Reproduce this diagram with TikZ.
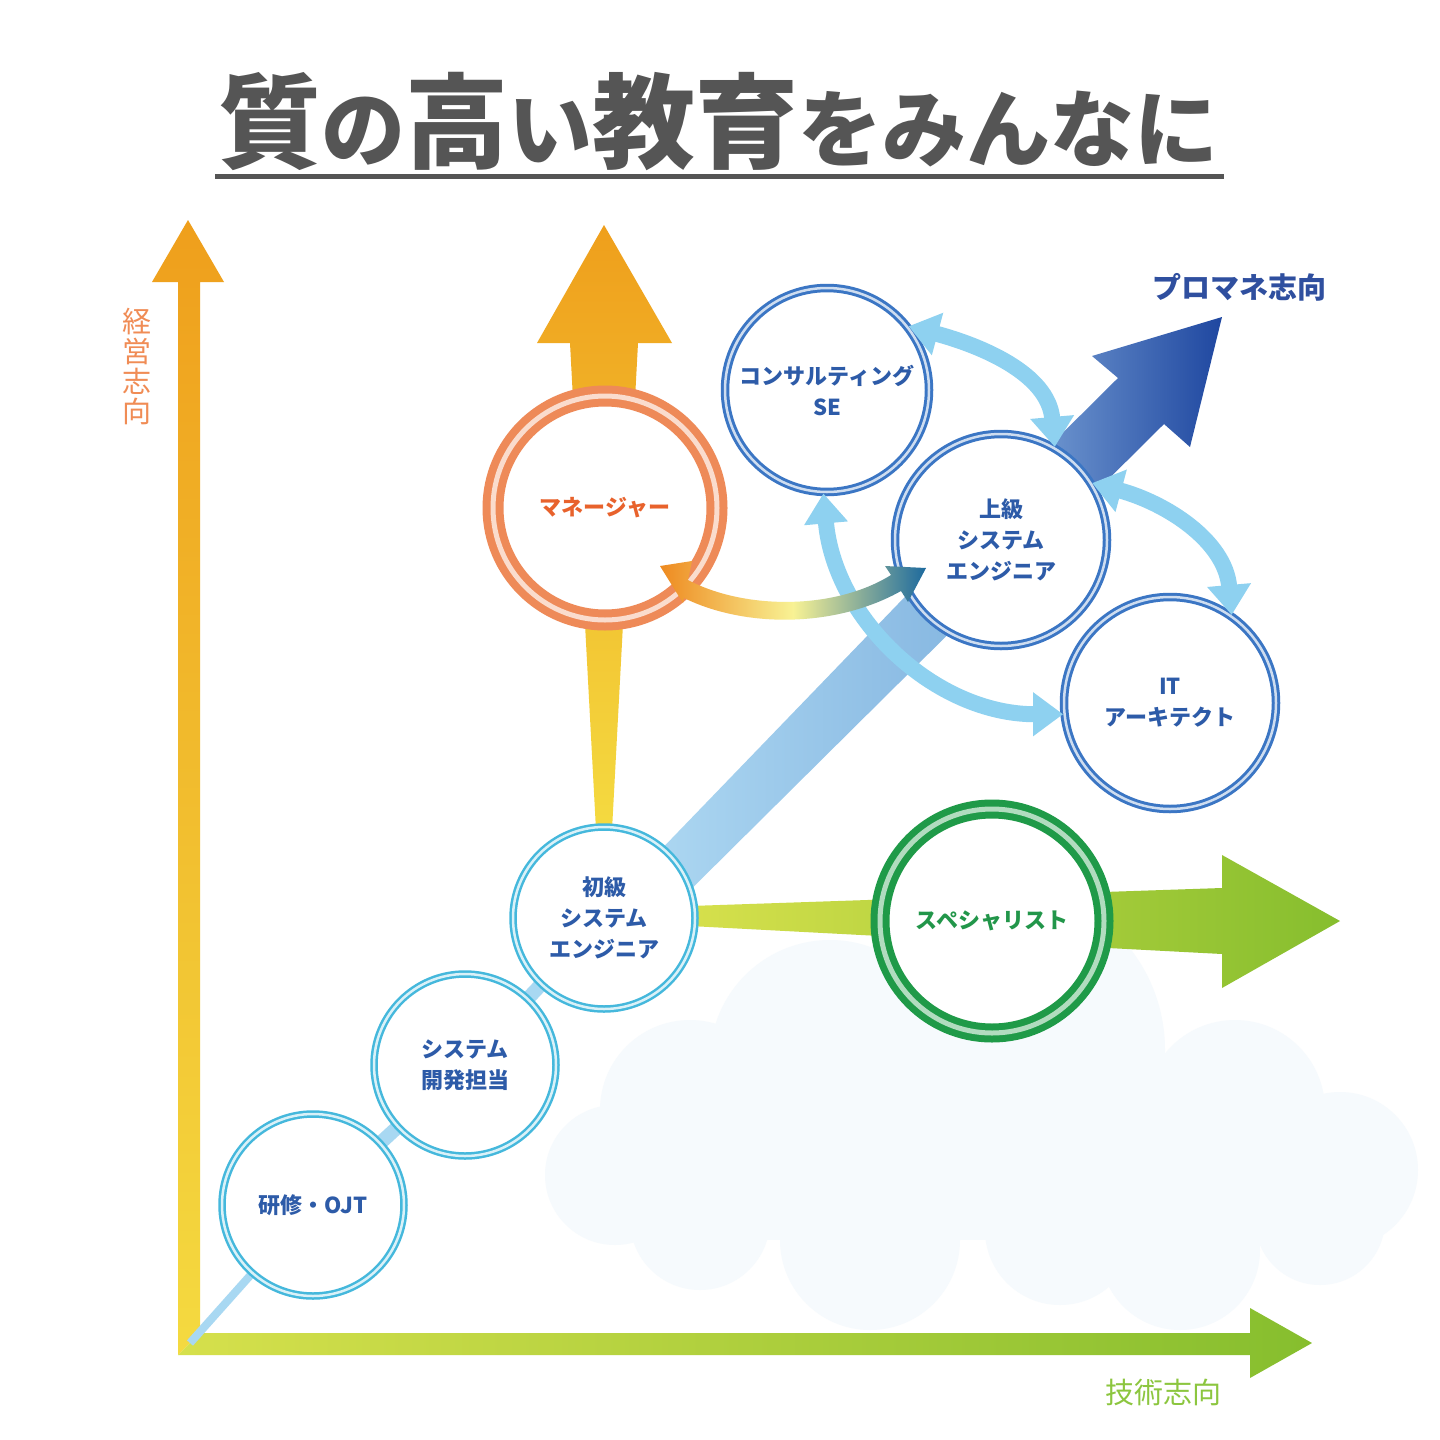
\documentclass[tikz,border=0pt]{standalone}
\usepackage{fontspec}
\newfontfamily\jp{Noto Sans CJK JP}
\usetikzlibrary{arrows.meta,backgrounds}

\definecolor{ttlgray}{HTML}{555555}
\definecolor{axorange}{HTML}{EF9F1C}
\definecolor{axyellow}{HTML}{F4DA40}
\definecolor{axlime}{HTML}{D6E04C}
\definecolor{axgreen}{HTML}{86BE2E}
\definecolor{lblorange}{HTML}{F08C55}
\definecolor{lblgreen}{HTML}{8CC63F}
\definecolor{ringcyan}{HTML}{45B8DC}
\definecolor{ringblue}{HTML}{3B76C4}
\definecolor{ringorange}{HTML}{EE8A58}
\definecolor{ringgreen}{HTML}{1F9A48}
\definecolor{txtblue}{HTML}{2D5BA8}
\definecolor{txtorange}{HTML}{E8622C}
\definecolor{txtgreen}{HTML}{22964A}
\definecolor{pmblue}{HTML}{2F4F9F}
\definecolor{skyblue}{HTML}{8ED1F0}
\definecolor{chainblue}{HTML}{A8D8F2}
\definecolor{bandlight}{HTML}{B0DAF3}
\definecolor{bandmid}{HTML}{7FB1DE}
\definecolor{pmlight}{HTML}{8AB2E0}
\definecolor{pmdark}{HTML}{1F47A0}
\definecolor{gradorange}{HTML}{EE8A20}
\definecolor{gradpale}{HTML}{F8F294}
\definecolor{gradteal}{HTML}{1D6A9E}
\definecolor{cloudbg}{HTML}{F6FAFD}

\newcommand\bigchar[1]{{\fontsize{103}{110}\selectfont#1}}
\newcommand\smallchar[1]{{\fontsize{84}{110}\selectfont#1}}

\tikzset{
  stagering/.style={circle, inner sep=0pt, minimum size=182pt, fill=white,
    draw=ringcyan, double=white!80!ringcyan, line width=2.5pt, double distance=2.5pt,
    text=txtblue, font=\jp\bfseries\fontsize{22}{31}\selectfont, align=center},
  seniorring/.style={stagering, minimum size=212pt, draw=ringblue,
    double=white!75!ringblue, line width=3pt},
  mgrring/.style={stagering, minimum size=224pt, draw=ringorange,
    double=white!70!ringorange, line width=8pt, double distance=5pt, text=txtorange},
  specring/.style={stagering, minimum size=224pt, draw=ringgreen,
    double=white!65!ringgreen, line width=7pt, double distance=5pt, text=txtgreen},
  twoway/.style={draw=skyblue, line width=16pt,
    {Triangle[width=42pt,length=30pt]}-{Triangle[width=42pt,length=30pt]}},
  axlabel/.style={font=\jp\fontsize{29}{30}\selectfont, align=center, inner sep=0pt}
}

\begin{document}
\begin{tikzpicture}[x=1pt,y=1pt]
\useasboundingbox (0,0) rectangle (1440,-1440);

% title
\node[anchor=base west, inner sep=0pt, text=ttlgray, font=\jp\bfseries] (title) at (218,-160)
  {\bigchar{質}\smallchar{の}\bigchar{高}\smallchar{い}\bigchar{教育}\smallchar{をみんなに}};
\draw[ttlgray, line width=5pt] (215,-176) -- (1224,-176);

% career circles
\node[stagering] (ojt) at (313,-1205) {研修・OJT};
\node[stagering] (kaihatsu) at (465,-1065) {システム\\開発担当};
\node[stagering] (shokyu) at (604,-918) {初級\\システム\\エンジニア};
\node[mgrring] (manager) at (605,-508) {マネージャー};
\node[seniorring, minimum size=204pt] (consul) at (827,-390) {コンサルティング\\SE};
\node[seniorring] (jokyu) at (1001,-540) {上級\\システム\\エンジニア};
\node[seniorring] (itarch) at (1170,-703) {IT\\アーキテクト};
\node[specring] (special) at (992,-921) {スペシャリスト};

\coordinate (origin) at (190,-1343);

\begin{scope}[on background layer]
\fill[white] (0,0) rectangle (1440,-1440);
% cloud
\fill[cloudbg] (615,-1175) circle (70) (690,-1110) circle (90) (830,-1060) circle (120)
  (1000,-1050) circle (165) (1235,-1110) circle (90) (1340,-1170) circle (78)
  (700,-1220) circle (70) (870,-1240) circle (90) (1060,-1230) circle (75)
  (1180,-1250) circle (80) (1320,-1220) circle (65);
\fill[cloudbg] (640,-1110) rectangle (1340,-1240);
% axes
\shade[top color=axorange, bottom color=axyellow] (178,-1355) -- (178,-282) -- (152,-282)
  -- (188,-220) -- (224,-282) -- (200,-282) -- (200,-1333) -- cycle;
\shade[left color=axlime, right color=axgreen] (178,-1355) -- (200,-1333) -- (1250,-1333)
  -- (1250,-1308) -- (1312,-1343) -- (1250,-1378) -- (1250,-1355) -- cycle;
% tapered arrows
\shade[top color=axorange, bottom color=axyellow] (596,-830) -- (570,-343) -- (537,-343)
  -- (604,-225) -- (672,-343) -- (638,-343) -- (612,-830) -- cycle;
\shade[left color=axlime, right color=axgreen] (690,-906) -- (1222,-888) -- (1222,-855)
  -- (1340,-921) -- (1222,-988) -- (1222,-954) -- (690,-926) -- cycle;
% chain
\draw[chainblue, line width=8pt] (origin) -- (ojt.center);
\draw[chainblue, line width=14pt] (ojt.center) -- (kaihatsu.center) -- (shokyu.center);
% promane arrow
\shade[left color=bandlight, right color=bandmid] (623,-889) -- (980,-519) -- (1022,-561)
  -- (657,-923) -- cycle;
\shade[left color=pmlight, right color=pmdark] (978,-517) -- (1118,-378) -- (1092,-356)
  -- (1222,-317) -- (1190,-447) -- (1164,-424) -- (1024,-563) -- cycle;
\end{scope}

% moves between roles
\draw[twoway] (consul.38) to[out=-15,in=95] (jokyu.60);
\draw[twoway] (jokyu.32) to[out=-15,in=95] (itarch.55);
\draw[twoway] (consul.268) to[out=-85,in=180] (itarch.186);
\shade[left color=gradorange, right color=gradteal, middle color=gradpale]
  (660,-566) -- (692,-561) -- (688,-580) .. controls (745,-610) and (835,-610) .. (891,-575)
  -- (885,-566) -- (926,-568) -- (908,-602) -- (901,-591)
  .. controls (835,-628) and (745,-628) .. (684,-598) -- (683,-603) -- cycle;

% labels
\node[axlabel, text=lblorange] (mgmtlbl) at (137,-366) {経\\営\\志\\向};
\node[axlabel, text=lblgreen] (techlbl) at (1163,-1392) {技術志向};
\node[font=\jp\bfseries\fontsize{29}{30}\selectfont, text=pmblue, inner sep=0pt] (pmlbl)
  at (1239,-287) {プロマネ志向};
\end{tikzpicture}
\end{document}
